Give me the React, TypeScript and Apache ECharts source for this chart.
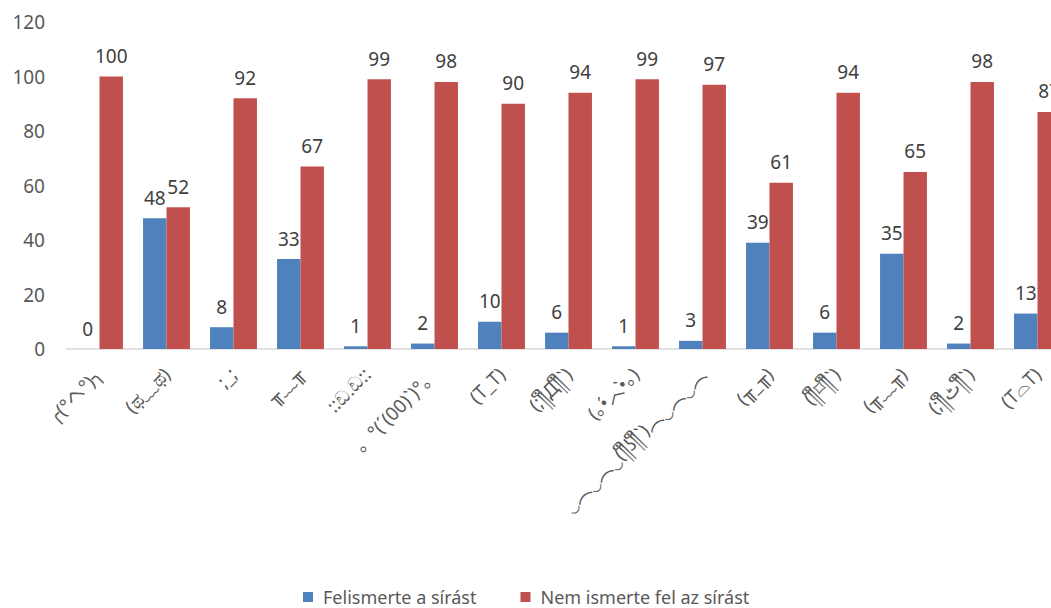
import React, { useEffect, useRef } from "react";
import * as echarts from "echarts";

const categories = [
  "╭(°ヘ°)╮",
  "(ಥ﹏ಥ)",
  ";_;",
  "╥﹏╥",
  "::ඩ.ඩ::",
  "。°(´(00)`)°。",
  "(T_T)",
  "(;༎ຶД༎ຶ`)",
  "(｡•́︿•̀｡)",
  "‿︵‿︵‿(༎ຶʖ༎ຶ`)︵‿︵‿︵",
  "(╥_╥)",
  "(༎ຶ⌑༎ຶ`)",
  "(╥﹏╥)",
  "(;༎ຶٹ༎ຶ`)",
  "(T⌓T)",
];
const recognized = [0, 48, 8, 33, 1, 2, 10, 6, 1, 3, 39, 6, 35, 2, 13];
const notRecognized = [100, 52, 92, 67, 99, 98, 90, 94, 99, 97, 61, 94, 65, 98, 87];
const seriesNames = ["Felismerte a sírást", "Nem ismerte fel az sírást"];
const yTicks = { min: 0, max: 120, interval: 20 };

const FONT = '"Noto Sans", "DejaVu Sans", "Noto Sans CJK JP", sans-serif';

export default function App() {
  const ref = useRef<HTMLDivElement>(null);
  useEffect(() => {
    if (!ref.current) return;
    const chart = echarts.init(ref.current, undefined, { renderer: "svg" });
    const labelStyle = {
      show: true,
      position: "top" as const,
      distance: 11,
      fontSize: 19,
      color: "#404040",
      fontFamily: FONT,
    };
    chart.setOption({
      animation: false,
      backgroundColor: "#ffffff",
      textStyle: { fontFamily: FONT },
      grid: { left: 66, right: 0, top: 22, bottom: 259, containLabel: false },
      legend: {
        top: 588,
        left: 303,
        padding: 0,
        icon: "rect",
        itemWidth: 10,
        itemHeight: 10,
        itemGap: 44,
        textStyle: {
          fontSize: 18,
          color: "#595959",
          fontFamily: FONT,
          padding: [0, 0, 0, 5],
        },
        data: seriesNames,
      },
      xAxis: {
        type: "category",
        data: categories,
        axisLine: { show: true, lineStyle: { color: "#d9d9d9", width: 1.5 } },
        axisTick: { show: false },
        axisLabel: {
          interval: 0,
          rotate: 45,
          fontSize: 19,
          color: "#595959",
          margin: 22,
          fontFamily: FONT,
        },
      },
      yAxis: {
        type: "value",
        min: yTicks.min,
        max: yTicks.max,
        interval: yTicks.interval,
        axisLine: { show: false },
        axisTick: { show: false },
        splitLine: { show: false },
        axisLabel: { fontSize: 19, color: "#595959", margin: 21, fontFamily: FONT },
      },
      series: [
        {
          name: seriesNames[0],
          type: "bar",
          data: recognized,
          barGap: "0%",
          barCategoryGap: "30%",
          itemStyle: { color: "#4f81bd" },
          label: labelStyle,
        },
        {
          name: seriesNames[1],
          type: "bar",
          data: notRecognized,
          barGap: "0%",
          barCategoryGap: "30%",
          itemStyle: { color: "#c0504d" },
          label: labelStyle,
        },
      ],
    });
    return () => chart.dispose();
  }, []);
  return (
    <div
      style={{
        position: "fixed",
        left: 0,
        top: 0,
        width: 1051,
        height: 608,
        overflow: "hidden",
        background: "#fff",
      }}
    >
      <div ref={ref} style={{ width: 1071, height: 608 }} />
    </div>
  );
}
